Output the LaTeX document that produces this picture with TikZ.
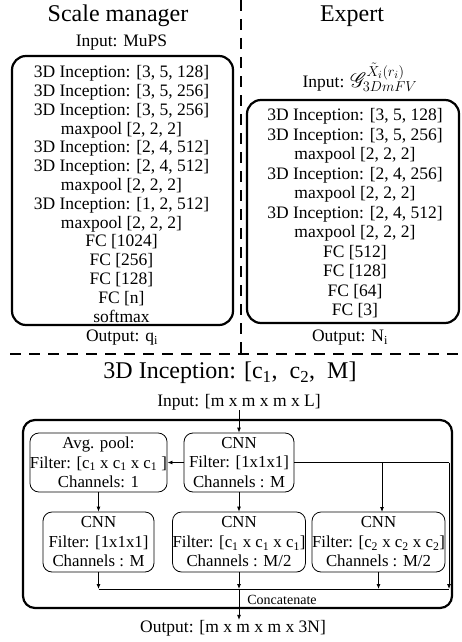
\documentclass[tikz,border=0pt]{standalone}
\usepackage{fontspec}
\setmainfont{Liberation Serif}
\usepackage{mathrsfs}
\usetikzlibrary{arrows.meta}
\begin{document}
\begin{tikzpicture}[x=1pt,y=-1pt,
  bigbox/.style={draw, line width=2.2pt, rounded corners=14pt, inner sep=0pt},
  outerbox/.style={draw, line width=2.2pt, rounded corners=12pt, inner sep=0pt},
  smallbox/.style={draw, line width=0.8pt, rounded corners=9pt, inner sep=0pt, align=center, font=\fontsize{16.8}{19.5}\selectfont},
  titletext/.style={font=\fontsize{24}{26}\selectfont, inner sep=0pt},
  lbl/.style={font=\fontsize{17.5}{18}\selectfont, inner sep=0pt},
  stackleft/.style={align=center, font=\fontsize{17.5}{18.8}\selectfont, inner sep=0pt},
  stackright/.style={align=center, font=\fontsize{17.5}{19.5}\selectfont, inner sep=0pt},
  smalllbl/.style={font=\fontsize{14}{16}\selectfont, inner sep=0pt},
  conn/.style={line width=0.8pt},
  arr/.style={conn, -{Latex[length=5pt,width=4pt]}},
  sepline/.style={line width=1.1pt, dash pattern=on 11pt off 8pt}
]
\useasboundingbox (0,0) rectangle (461,642);

% separators
\coordinate (vtop) at (241,0);
\coordinate (vbot) at (241,354);
\coordinate (hl) at (10,354);
\coordinate (hr) at (461,354);
\draw[sepline] (vtop) -- (vbot);
\draw[sepline] (hl) -- (hr);

% Scale manager
\node[titletext] (smtitle) at (118,16) {Scale manager};
\node[lbl] (smin) at (121.5,43) {Input: MuPS};
\node[bigbox, minimum width=221pt, minimum height=269pt] (smbox) at (122.5,190.5) {};
\node[stackleft] (smtext) at (121.5,194) {3D Inception: [3, 5, 128]\\3D Inception: [3, 5, 256]\\3D Inception: [3, 5, 256]\\maxpool [2, 2, 2]\\3D Inception: [2, 4, 512]\\3D Inception: [2, 4, 512]\\maxpool [2, 2, 2]\\3D Inception: [1, 2, 512]\\maxpool [2, 2, 2]\\FC [1024]\\FC [256]\\FC [128]\\FC [n]\\softmax};
\node[lbl] (smout) at (122,338) {Output: q\textsubscript{i}};

% Expert
\node[titletext] (extitle) at (352,16) {Expert};
\node[lbl, anchor=base] (exin) at (360,87) {Input: {\fontsize{22}{22}\selectfont$\mathscr{G}^{\tilde{X}_i(r_i)}_{3DmFV}$}};
\node[bigbox, minimum width=212pt, minimum height=223pt] (exbox) at (353,211.5) {};
\node[stackright] (extext) at (355,213.5) {3D Inception: [3, 5, 128]\\3D Inception: [3, 5, 256]\\maxpool [2, 2, 2]\\3D Inception: [2, 4, 256]\\maxpool [2, 2, 2]\\3D Inception: [2, 4, 512]\\maxpool [2, 2, 2]\\FC [512]\\FC [128]\\FC [64]\\FC [3]};
\node[lbl] (exout) at (350,338) {Output: N\textsubscript{i}};

% 3D Inception module
\node[titletext] (inctitle) at (230,373) {3D Inception: [c\textsubscript{1},\ \ c\textsubscript{2},\ \ M]};
\node[lbl] (incin) at (239,402) {Input: [m x m x m x L]};
\node[outerbox, minimum width=429pt, minimum height=188pt] (outer) at (237.5,514) {};

\node[smallbox, minimum width=137pt, minimum height=59pt] (avg) at (98.5,462.5) {Avg. pool:\\Filter: [c\textsubscript{1} x c\textsubscript{1} x c\textsubscript{1} ]\\Channels: 1};
\node[smallbox, minimum width=110pt, minimum height=59pt] (cnn0) at (239,462.5) {CNN\\Filter: [1x1x1]\\Channels : M};
\node[smallbox, minimum width=111pt, minimum height=60pt] (cnn1) at (98.5,542) {CNN\\Filter: [1x1x1]\\Channels : M};
\node[smallbox, minimum width=130pt, minimum height=60pt] (cnn2) at (239,542) {CNN\\Filter: [c\textsubscript{1} x c\textsubscript{1} x c\textsubscript{1}]\\Channels : M/2};
\node[smallbox, minimum width=129pt, minimum height=60pt] (cnn3) at (378.5,542) {CNN\\Filter: [c\textsubscript{2} x c\textsubscript{2} x c\textsubscript{2}]\\Channels : M/2};

\coordinate (rtop) at (449,462.5);
\coordinate (cl) at (98.5,589);
\coordinate (cr) at (449,589);

\node[smalllbl] (concat) at (282,600) {Concatenate};
\node[lbl] (incout) at (233,628) {Output: [m x m x m x 3N]};

% connectors
\draw[arr] (cnn0.north |- incin.south) -- (cnn0.north);
\draw[arr] (cnn0.west) -- (avg.east);
\draw[arr] (avg.south) -- (cnn1.north);
\draw[arr] (cnn0.south) -- (cnn2.north);
\draw[conn] (cnn0.east) -- (rtop);
\draw[arr] (rtop) -- (cr);
\draw[arr] (cnn0.east -| 382,0) -- (382,512);
\draw[conn] (cl) -- (cr);
\draw[arr] (cnn1.south) -- (cl);
\draw[arr] (cnn2.south) -- (cnn2.south |- cl);
\draw[arr] (cnn3.south) -- (cnn3.south |- cl);
\draw[arr] (cnn2.south |- cl) -- (cnn2.south |- incout.north);
\end{tikzpicture}
\end{document}
